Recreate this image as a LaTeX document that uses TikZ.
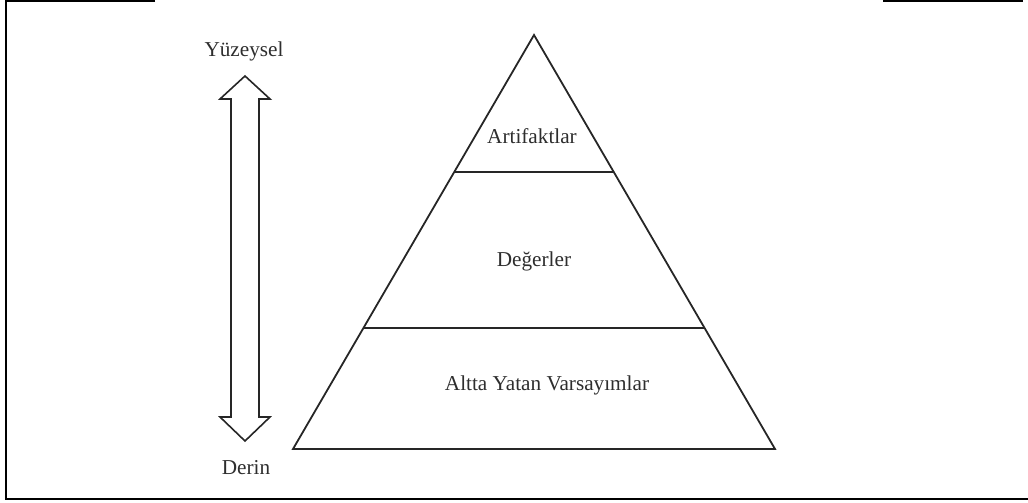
\documentclass[tikz,border=0pt]{standalone}
\usepackage{fontspec}
\setmainfont{Liberation Serif}
\usetikzlibrary{calc}
\begin{document}
\begin{tikzpicture}[x=1bp,y=-1bp,
  edge/.style={line width=1.8bp, draw=black!85, line join=miter},
  frame/.style={line width=2.2bp, draw=black},
  label/.style={inner sep=0pt, text=black!82, font=\fontsize{21.3}{25}\selectfont}]
\useasboundingbox (0,0) rectangle (1028,503);

% open frame around the figure
\draw[frame] (155,1) -- (6,1) -- (6,499) -- (1028,499);
\draw[frame] (883,1) -- (1023,1);

% pyramid corners and layer boundaries
\coordinate (apex) at (534,35);
\coordinate (bl) at (293,449);
\coordinate (br) at (775,449);
\coordinate (l1) at ($(apex)!0.331!(bl)$);
\coordinate (r1) at ($(apex)!0.331!(br)$);
\coordinate (l2) at ($(apex)!0.708!(bl)$);
\coordinate (r2) at ($(apex)!0.708!(br)$);

\draw[edge] (apex) -- (bl) -- (br) -- cycle;
\draw[edge] (l1) -- (r1);
\draw[edge] (l2) -- (r2);

\node[label] (art) at (532,136) {Artifaktlar};
\node[label] (deg) at (534,261) {Değerler};
\node[label] (alt) at (547,385) {Altta Yatan Varsayımlar};

% double-headed hollow arrow from surface to depth
\node[label] (yuz) at (244,51) {Yüzeysel};
\node[label] (der) at (246,468) {Derin};
\draw[edge, line width=1.6bp]
  (245,76) -- (270,99) -- (259,99) -- (259,417) -- (270,417) -- (245,441)
  -- (220,417) -- (231,417) -- (231,99) -- (220,99) -- cycle;
\end{tikzpicture}
\end{document}
